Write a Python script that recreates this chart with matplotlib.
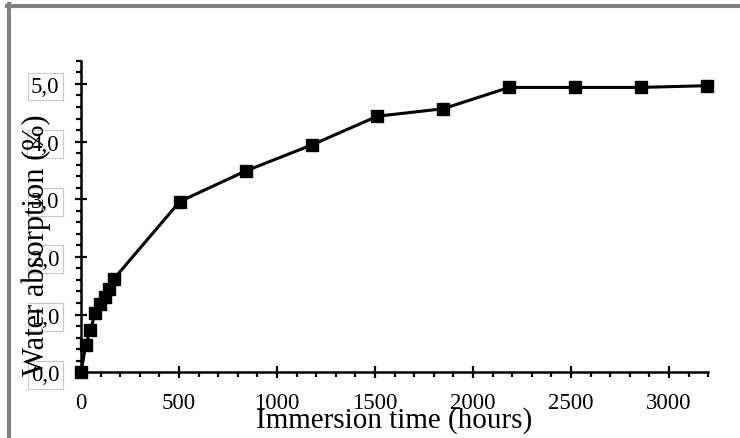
import matplotlib.pyplot as plt
from matplotlib.lines import Line2D
from matplotlib.ticker import MultipleLocator

plt.rcParams['font.family'] = ['Liberation Serif', 'DejaVu Serif']

# immersion time (hours) and water absorption (%)
hours = [0, 24, 48, 72, 96, 120, 144, 168, 504, 840, 1176, 1512, 1848, 2184, 2520, 2856, 3192]
absorption = [0.0, 0.47, 0.73, 1.02, 1.18, 1.31, 1.44, 1.62, 2.96, 3.49, 3.94, 4.44, 4.57,
              4.94, 4.94, 4.94, 4.97]

y_ticks = [0, 1, 2, 3, 4, 5]
y_labels = ['0,0', '1,0', '2,0', '3,0', '4,0', '5,0']

fig = plt.figure(figsize=(7.4, 4.39), dpi=100)
ax = fig.add_axes([0.1095, 0.150, 0.8475, 0.709])

ax.plot(hours, absorption, color='black', lw=2.2, marker='s', markersize=9,
        clip_on=False, zorder=5)

ax.set_xlim(0, 3200)
ax.set_ylim(0, 5.4)

for s in ['top', 'right']:
    ax.spines[s].set_visible(False)
for s in ['left', 'bottom']:
    ax.spines[s].set_linewidth(1.8)

ax.xaxis.set_major_locator(MultipleLocator(500))
ax.xaxis.set_minor_locator(MultipleLocator(100))
ax.set_yticks(y_ticks)
ax.set_yticklabels(y_labels)
ax.yaxis.set_minor_locator(MultipleLocator(0.2))

ax.tick_params(which='major', direction='inout', length=9, width=1.6, labelsize=16.5)
ax.tick_params(which='minor', direction='out', length=3.5, width=1.6)
ax.tick_params(axis='x', which='major', pad=10)
ax.tick_params(axis='y', which='major', pad=11)

for lab in ax.get_yticklabels():
    lab.set_bbox(dict(boxstyle='square,pad=0.15', fc='none', ec='#c8c8c8', lw=0.8))

ax.set_xlabel('Immersion time (hours)', fontsize=21, labelpad=-5)
ax.set_ylabel('Water absorption (%)', fontsize=22)
ax.yaxis.set_label_coords(-0.048, 0.41)

# gray frame on top and left
fig.add_artist(Line2D([0.0095, 1.0], [0.9840, 0.9840], color='#808080', lw=3,
                      transform=fig.transFigure))
fig.add_artist(Line2D([0.0122, 0.0122], [0.0, 0.9875], color='#808080', lw=3,
                      transform=fig.transFigure))

fig.savefig('out.png', dpi=100)
